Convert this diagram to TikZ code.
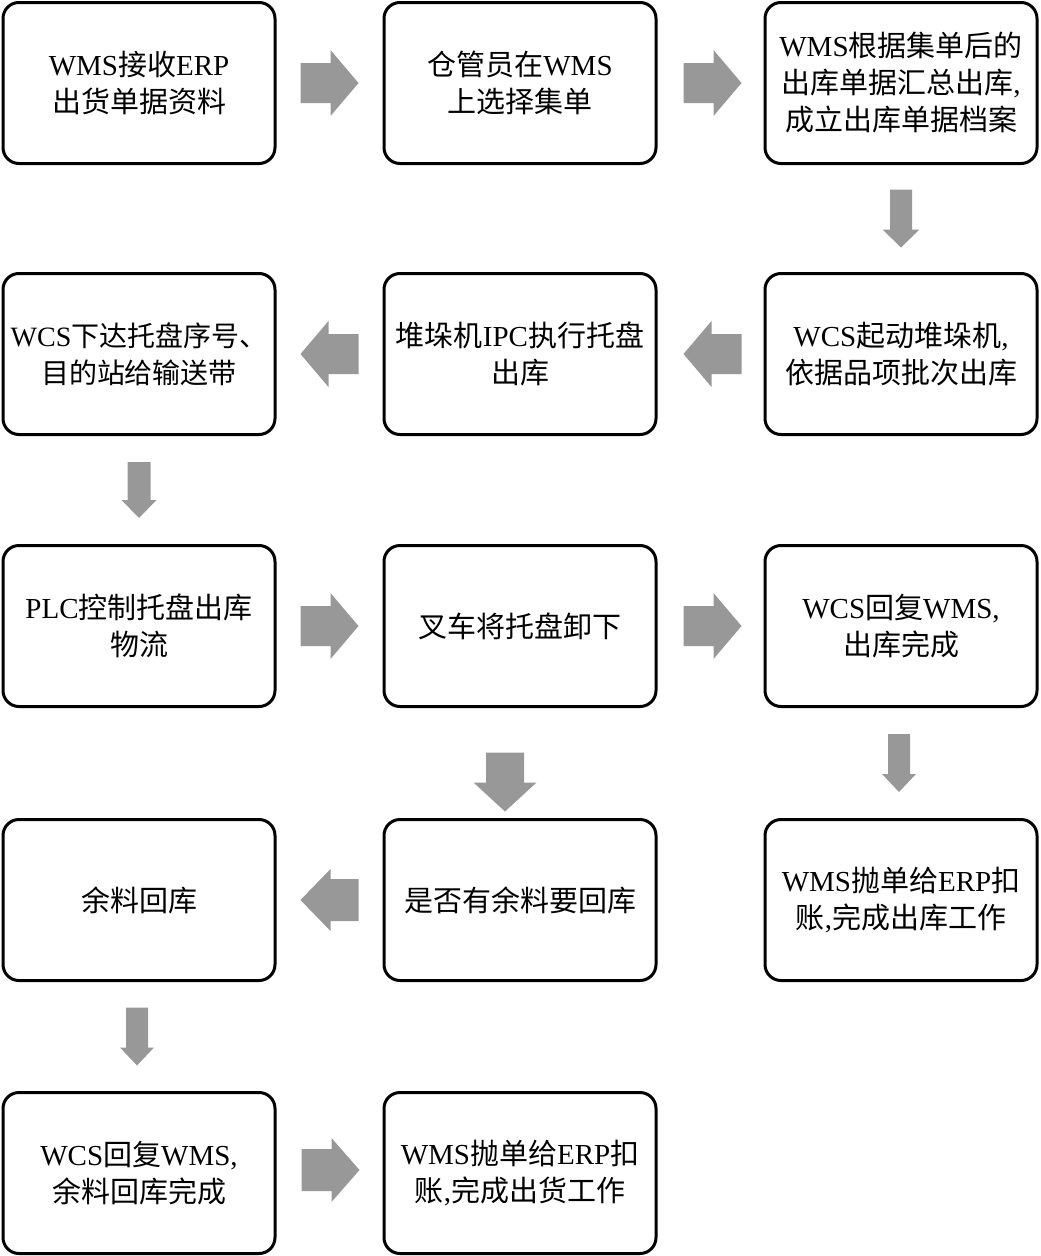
\documentclass[tikz,border=0pt]{standalone}
\usepackage{fontspec}
\setmainfont{Liberation Serif}
\newfontfamily\cjk{Noto Sans CJK SC}
\newcommand\zh[1]{{\cjk #1}}
\usetikzlibrary{calc}
\definecolor{arrowgray}{RGB}{152,152,152}
\tikzset{
  box/.style={draw=black, line width=3pt, rounded corners=16pt, fill=white,
    minimum width=272pt, minimum height=161pt, align=center, inner sep=1pt,
    font=\fontsize{29}{37}\selectfont},
  pics/blk/.style n args={4}{code={
    \fill[arrowgray] (-#1/2,-#2/2) -- (#1/2-#4,-#2/2) -- (#1/2-#4,-#3/2) -- (#1/2,0)
      -- (#1/2-#4,#3/2) -- (#1/2-#4,#2/2) -- (-#1/2,#2/2) -- cycle;}},
}
\begin{document}
\begin{tikzpicture}[x=1pt,y=-1pt]
\useasboundingbox (0,0) rectangle (1041,1256);
% row 1
\node[box] (n1) at (139,83) {WMS\zh{接收}ERP\\\zh{出货单据资料}};
\node[box] (n2) at (520,83) {\zh{仓管员在}WMS\\\zh{上选择集单}};
\node[box] (n3) at (901,83) {WMS\zh{根据集单后的}\\\zh{出库单据汇总出库},\\\zh{成立出库单据档案}};
% row 2
\node[box, font=\fontsize{28}{37}\selectfont] (n4) at (139,354) {WCS\zh{下达托盘序号、}\\\zh{目的站给输送带}};
\node[box] (n5) at (520,354) {\zh{堆垛机}IPC\zh{执行托盘}\\\zh{出库}};
\node[box] (n6) at (901,354) {WCS\zh{起动堆垛机},\\\zh{依据品项批次出库}};
% row 3
\node[box] (n7) at (139,626) {PLC\zh{控制托盘出库}\\\zh{物流}};
\node[box] (n8) at (520,626) {\zh{叉车将托盘卸下}};
\node[box] (n9) at (901,626) {WCS\zh{回复}WMS,\\\zh{出库完成}};
% row 4
\node[box] (n10) at (139,900) {\zh{余料回库}};
\node[box] (n11) at (520,900) {\zh{是否有余料要回库}};
\node[box] (n12) at (901,900) {WMS\zh{抛单给}ERP\zh{扣}\\\zh{账},\zh{完成出库工作}};
% row 5
\node[box] (n13) at (139,1173) {WCS\zh{回复}WMS,\\\zh{余料回库完成}};
\node[box] (n14) at (520,1173) {WMS\zh{抛单给}ERP\zh{扣}\\\zh{账},\zh{完成出货工作}};
% block arrows
\pic at ($(n1.east)!0.5!(n2.west)$) {blk={58}{40}{66}{28}};
\pic at ($(n2.east)!0.5!(n3.west)+(2,0)$) {blk={58}{40}{66}{28}};
\pic[rotate=-90] at ($(n3.south)!0.5!(n6.north)$) {blk={58}{22}{37}{18}};
\pic[rotate=180] at ($(n6.west)!0.5!(n5.east)+(2,0)$) {blk={58}{40}{66}{28}};
\pic[rotate=180] at ($(n5.west)!0.5!(n4.east)$) {blk={58}{40}{66}{28}};
\pic[rotate=-90] at ($(n4.south)!0.5!(n7.north)$) {blk={56}{23}{35}{18}};
\pic at ($(n7.east)!0.5!(n8.west)$) {blk={58}{40}{66}{28}};
\pic at ($(n8.east)!0.5!(n9.west)+(2,0)$) {blk={58}{40}{66}{28}};
\pic[rotate=-90] at ($(n8.south)!0.5!(n11.north)+(-15,19)$) {blk={59}{38}{63}{29}};
\pic[rotate=-90] at ($(n9.south)!0.5!(n12.north)+(-2,0)$) {blk={58}{22}{34}{18}};
\pic[rotate=180] at ($(n11.west)!0.5!(n10.east)$) {blk={58}{42}{62}{30}};
\pic[rotate=-90] at ($(n10.south)!0.5!(n13.north)+(-2,0)$) {blk={58}{22}{34}{18}};
\pic at ($(n13.east)!0.5!(n14.west)+(1,-3)$) {blk={58}{42}{64}{28}};
\end{tikzpicture}
\end{document}
